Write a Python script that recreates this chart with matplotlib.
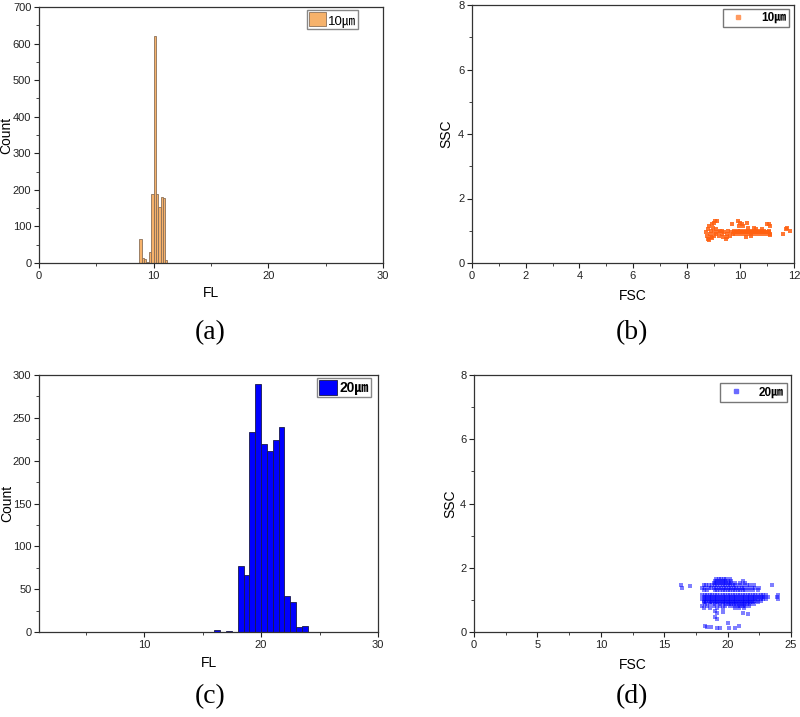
import matplotlib
matplotlib.use("Agg")
import matplotlib.pyplot as plt
from matplotlib.ticker import MultipleLocator, FixedLocator
from matplotlib.patches import Patch
from matplotlib.lines import Line2D

plt.rcParams['font.family'] = ['Liberation Sans', 'Noto Sans CJK KR', 'DejaVu Sans']

# ---------------- data ----------------
# (a) histogram of FL for 10 um beads
a_edges = [8.75, 8.95, 9.15, 9.35, 9.55, 9.75, 10.0, 10.2, 10.4, 10.6, 10.8, 11.0, 11.2]
a_counts = [66, 15, 10, 3, 30, 190, 620, 190, 152, 180, 177, 8]

# (c) histogram of FL for 20 um beads
c_edges = [16.0, 16.5, 17.0, 17.5, 18.0, 18.5, 19.0, 19.5, 20.0, 20.5, 21.0,
           21.5, 22.0, 22.5, 23.0, 23.5, 24.0]
c_counts = [2, 0, 1, 0, 77, 67, 234, 290, 220, 211, 224, 239, 42, 35, 6, 7]

# (b) scatter FSC vs SSC, 10 um (rows of equal SSC + scattered points)
b_row_ssc = [0.90, 0.95, 1.00]
b_row_fsc = [
    [9.80, 9.95, 10.10, 10.25, 10.40, 10.55, 10.70, 10.85, 11.00, 11.10],
    [9.75, 9.82, 9.90, 9.97, 10.05, 10.12, 10.20, 10.27, 10.35, 10.42, 10.50,
     10.57, 10.65, 10.72, 10.80, 10.87, 10.95, 11.02, 11.08],
    [9.78, 9.90, 10.00, 10.15, 10.30, 10.45, 10.60, 10.75, 10.90, 11.05],
]
b_fsc_extra = [8.72, 8.75, 8.80, 8.78, 8.85, 8.88, 8.90, 8.92, 8.95, 8.97, 9.00, 9.02,
               9.05, 9.08, 8.85, 9.10, 9.12, 8.95, 9.00, 9.15, 9.20, 9.25, 9.30, 9.35,
               9.40, 9.45, 9.50, 9.55, 9.60, 9.65, 9.70, 9.72, 9.50, 9.30, 9.90, 9.95,
               10.00, 10.05, 10.10, 10.25, 10.30, 10.50, 10.40, 10.20, 11.00, 11.05,
               11.10, 10.80, 10.60, 11.10, 11.60, 11.70, 11.75, 11.85]
b_ssc_extra = [0.95, 0.85, 1.05, 0.75, 1.15, 0.90, 1.00, 0.80, 1.20, 1.10, 0.95, 0.85,
               1.30, 1.05, 0.72, 0.90, 1.30, 0.78, 1.25, 0.95, 0.85, 1.00, 0.90, 0.80,
               0.95, 0.75, 0.90, 1.00, 0.85, 0.95, 1.20, 0.90, 0.80, 0.98, 1.30, 1.15,
               1.25, 1.20, 1.15, 1.25, 1.10, 1.10, 0.85, 0.80, 1.20, 1.20,
               1.15, 1.05, 1.05, 0.88, 0.90, 1.05, 1.10, 1.00]

# (d) scatter FSC vs SSC, 20 um
d_row_ssc = [1.66, 1.60, 1.52, 1.45, 1.38, 1.30, 1.16, 1.10, 1.04, 0.98, 0.92,
             0.86, 0.80, 0.74]
d_row_fsc = [
    [19.1, 19.3, 19.5, 19.7, 19.9, 20.2],
    [19.0, 19.2, 19.4, 19.6, 19.8, 20.0, 20.3, 21.2],
    [18.9, 19.1, 19.3, 19.5, 19.7, 19.9, 20.1, 20.3, 20.6, 21.0, 21.4],
    [18.1, 18.3, 18.5, 18.8, 19.0, 19.2, 19.4, 19.6, 19.8, 20.0, 20.2, 20.4,
     20.6, 20.9, 21.2, 21.5, 21.8, 22.1, 23.5],
    [18.0, 18.2, 18.5, 18.7, 18.9, 19.1, 19.3, 19.5, 19.7, 19.9, 20.1, 20.3,
     20.5, 20.7, 20.9, 21.1, 21.3, 21.6, 21.9, 22.2, 22.5, 16.4],
    [18.1, 18.4, 19.0, 19.2, 19.4, 19.6, 19.8, 20.0, 20.2, 20.4, 20.6, 20.8,
     21.0, 21.2, 21.4, 21.7, 22.0, 22.4],
    [18.0, 18.2, 18.4, 18.6, 18.8, 19.0, 19.2, 19.4, 19.6, 19.8, 20.0, 20.2,
     20.4, 20.6, 20.8, 21.0, 21.2, 21.4, 21.6, 21.8, 22.0, 22.2, 22.4, 22.6,
     22.8, 23.0, 24.0],
    [18.1, 18.3, 18.5, 18.7, 18.9, 19.1, 19.3, 19.5, 19.7, 19.9, 20.1, 20.3,
     20.5, 20.7, 20.9, 21.1, 21.3, 21.5, 21.7, 21.9, 22.1, 22.3, 22.5, 22.7,
     22.9, 23.2, 23.9],
    [18.0, 18.2, 18.4, 18.6, 18.8, 19.0, 19.2, 19.4, 19.6, 19.8, 20.0, 20.2,
     20.4, 20.6, 20.8, 21.0, 21.2, 21.4, 21.6, 21.8, 22.0, 22.2, 22.4, 22.6,
     22.8, 23.0, 24.0],
    [18.1, 18.3, 18.5, 18.7, 18.9, 19.1, 19.3, 19.5, 19.7, 19.9, 20.1, 20.3,
     20.5, 20.7, 20.9, 21.1, 21.3, 21.5, 21.7, 21.9, 22.1, 22.3, 22.6],
    [18.1, 18.3, 18.6, 18.8, 19.0, 19.2, 19.4, 19.6, 19.8, 20.0, 20.2, 20.4,
     20.6, 20.8, 21.0, 21.2, 21.4, 21.6, 21.8, 22.0, 22.4],
    [18.2, 18.6, 19.0, 19.3, 19.6, 19.9, 20.1, 20.3, 20.5, 20.7, 20.9, 21.1,
     21.3, 21.5, 21.8, 22.1],
    [18.0, 18.4, 18.9, 19.4, 19.8, 20.2, 20.5, 20.8, 21.0, 21.2, 21.4, 21.7],
    [18.1, 18.6, 19.2, 19.6, 20.6, 20.9, 21.3],
]
d_fsc_extra = [19.0, 19.2, 19.6, 21.2, 21.6, 19.0, 19.2, 18.2, 18.4, 18.7, 19.2,
               19.4, 20.0, 20.1, 20.6, 20.9, 16.3, 17.0]
d_ssc_extra = [0.65, 0.58, 0.62, 0.60, 0.55, 0.48, 0.42, 0.20, 0.17, 0.15, 0.13,
               0.12, 0.28, 0.12, 0.12, 0.20, 1.45, 1.43]

label_10 = "10\u339b"
label_20 = "20\u339b"

# ---------------- figure ----------------
W, H = 800, 717
fig = plt.figure(figsize=(W / 100, H / 100), dpi=100)


def ax_px(l, t, r, b):
    return fig.add_axes([l / W, 1 - b / H, (r - l) / W, (b - t) / H])


def style(ax):
    for s in ax.spines.values():
        s.set_linewidth(0.9)
        s.set_color('#333333')
    ax.tick_params(which='major', direction='out', length=3.5, width=0.8,
                   labelsize=8, colors='#222222', pad=2)
    ax.tick_params(which='minor', direction='out', length=2, width=0.7,
                   colors='#444444')


def labels(ax, xl, yl, xpos, ypos):
    ax.set_xlabel(xl, fontsize=10, va='center')
    ax.set_ylabel(yl, fontsize=10, va='center')
    ax.xaxis.set_label_coords(0.5, xpos)
    ax.yaxis.set_label_coords(ypos, 0.5)


def flatten(row_y, row_x, ex_x, ex_y):
    xs, ys = [], []
    for yv, xr in zip(row_y, row_x):
        for xv in xr:
            xs.append(xv)
            ys.append(yv)
    return xs + list(ex_x), ys + list(ex_y)


cjk = ['Liberation Sans', 'Noto Sans CJK KR']

# (a)
axa = ax_px(39, 7, 383, 263)
a_w = [a_edges[i + 1] - a_edges[i] for i in range(len(a_counts))]
axa.bar(a_edges[:-1], a_counts, width=a_w, align='edge', color='#f6b26b',
        edgecolor='#8c7058', linewidth=0.6)
axa.set_xlim(0, 30)
axa.set_ylim(0, 700)
axa.xaxis.set_major_locator(MultipleLocator(10))
axa.xaxis.set_minor_locator(MultipleLocator(5))
axa.yaxis.set_major_locator(MultipleLocator(100))
axa.yaxis.set_minor_locator(MultipleLocator(50))
style(axa)
labels(axa, 'FL', 'Count', -0.117, -0.096)
axa.legend(handles=[Patch(facecolor='#f6b26b', edgecolor='#8c7058', linewidth=0.6)],
           labels=[label_10], loc='upper right', bbox_to_anchor=(0.927, 0.988),
           fancybox=False, framealpha=1, edgecolor='#888888',
           handlelength=1.3, handleheight=1.3, handletextpad=0.15,
           borderpad=0.15, borderaxespad=0.0,
           prop={'family': cjk, 'size': 9.5})

# (b)
axb = ax_px(472, 5, 794, 263)
bx, by = flatten(b_row_ssc, b_row_fsc, b_fsc_extra, b_ssc_extra)
axb.scatter(bx, by, s=6, marker='s', color='#ff6010', alpha=0.85, linewidths=0)
axb.set_xlim(0, 12)
axb.set_ylim(0, 8)
axb.xaxis.set_major_locator(MultipleLocator(2))
axb.xaxis.set_minor_locator(MultipleLocator(1))
axb.yaxis.set_major_locator(MultipleLocator(2))
axb.yaxis.set_minor_locator(MultipleLocator(1))
style(axb)
labels(axb, 'FSC', 'SSC', -0.128, -0.079)
axb.legend(handles=[Line2D([], [], marker='s', color='#ff9a60', linestyle='none',
                           markersize=3)],
           labels=[label_10], loc='upper right', bbox_to_anchor=(0.984, 0.984),
           fancybox=False, framealpha=1, edgecolor='#777777',
           handlelength=2.2, handletextpad=0.8, borderpad=0.25, borderaxespad=0.0,
           prop={'family': cjk, 'size': 8.5, 'weight': 'bold'})

# (c)
axc = ax_px(39, 375, 378, 632)
c_w = [c_edges[i + 1] - c_edges[i] for i in range(len(c_counts))]
axc.bar(c_edges[:-1], c_counts, width=c_w, align='edge', color='#0000ff',
        edgecolor='#1a1a4a', linewidth=0.6)
axc.set_xlim(1, 30)
axc.set_ylim(0, 300)
axc.xaxis.set_major_locator(FixedLocator([10, 20, 30]))
axc.xaxis.set_minor_locator(FixedLocator([5, 15, 25]))
axc.yaxis.set_major_locator(MultipleLocator(50))
axc.yaxis.set_minor_locator(MultipleLocator(25))
style(axc)
labels(axc, 'FL', 'Count', -0.12, -0.094)
axc.legend(handles=[Patch(facecolor='#0000ff', edgecolor='#1a1a4a', linewidth=0.6)],
           labels=[label_20], loc='upper right', bbox_to_anchor=(0.979, 0.988),
           fancybox=False, framealpha=1, edgecolor='#888888',
           handlelength=1.3, handleheight=1.3, handletextpad=0.15,
           borderpad=0.15, borderaxespad=0.0,
           prop={'family': cjk, 'size': 10, 'weight': 'bold'})

# (d)
axd = ax_px(474, 375, 791, 632)
dx, dy = flatten(d_row_ssc, d_row_fsc, d_fsc_extra, d_ssc_extra)
axd.scatter(dx, dy, s=12, marker='s', color='#0000ff', alpha=0.5, linewidths=0)
axd.set_xlim(0, 25)
axd.set_ylim(0, 8)
axd.xaxis.set_major_locator(MultipleLocator(5))
axd.xaxis.set_minor_locator(MultipleLocator(2.5))
axd.yaxis.set_major_locator(MultipleLocator(2))
axd.yaxis.set_minor_locator(MultipleLocator(1))
style(axd)
labels(axd, 'FSC', 'SSC', -0.128, -0.076)
axd.legend(handles=[Line2D([], [], marker='s', color='#6a6aff', linestyle='none',
                           markersize=3)],
           labels=[label_20], loc='upper right', bbox_to_anchor=(0.987, 0.969),
           fancybox=False, framealpha=1, edgecolor='#777777',
           handlelength=2.2, handletextpad=0.8, borderpad=0.3, borderaxespad=0.0,
           prop={'family': cjk, 'size': 8.5, 'weight': 'bold'})

# panel letters
serif = ['Liberation Serif', 'DejaVu Serif']
for txt, xp, yp in [('(a)', 210, 333), ('(b)', 632, 333),
                    ('(c)', 210, 697), ('(d)', 632, 697)]:
    fig.text(xp / W, 1 - yp / H, txt, ha='center', va='center',
             fontsize=20, family=serif)

fig.savefig('out.png', dpi=100)
